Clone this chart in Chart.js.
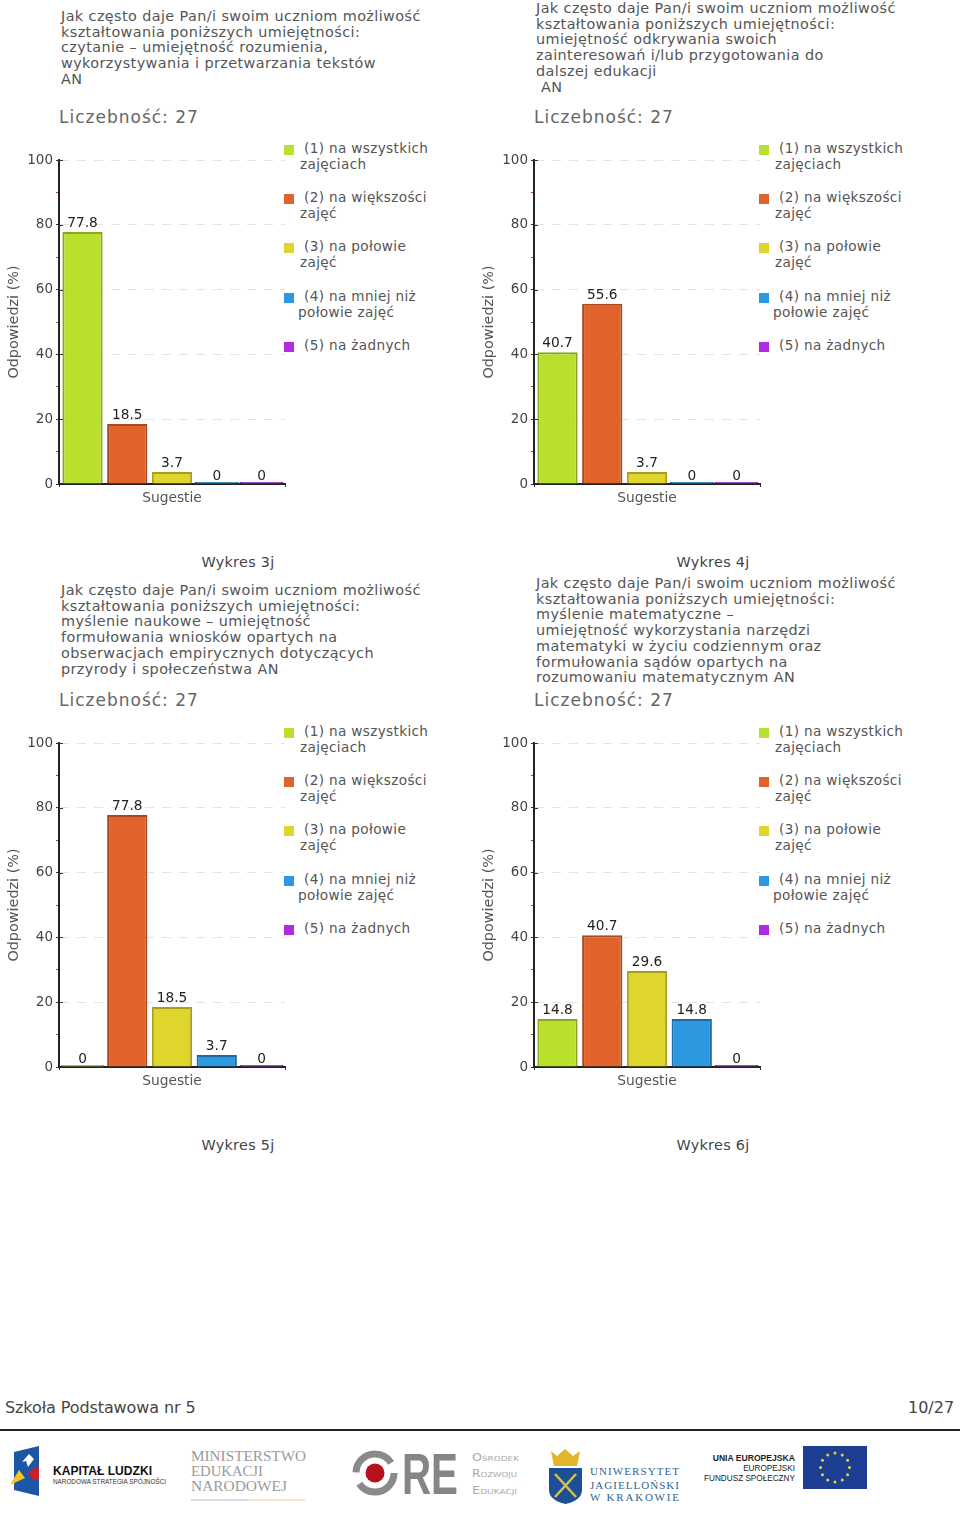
<!DOCTYPE html>
<html>
<head>
<meta charset="utf-8">
<title>Wykresy 3j-6j</title>
<script src="https://cdnjs.cloudflare.com/ajax/libs/Chart.js/4.4.1/chart.umd.min.js"></script>
<style>
html, body { margin: 0; background: #fff; }
#page { position: relative; width: 960px; height: 1518px; overflow: hidden; font-family: "DejaVu Sans", sans-serif; color: #555; }
#page div, #page canvas, #page svg { position: absolute; }
.question { font-size: 14.4px; line-height: 15.7px; letter-spacing: .4px; white-space: pre; color: #555; }
.count { font-size: 17px; letter-spacing: 1px; color: #666; white-space: pre; }
.leg { font-size: 13.6px; line-height: 16px; letter-spacing: .35px; white-space: pre; color: #555; }
.sw { width: 8px; height: 8px; border: 1px solid; }
.cap { font-size: 14.4px; letter-spacing: .3px; color: #444; width: 200px; text-align: center; }
</style>
</head>
<body>
<div id="page"></div>
<script>
// answers, same for every chart
var categories = ['Sugestie'];
var answers = ['(1) na wszystkich\nzajęciach', '(2) na większości\nzajęć', '(3) na połowie\nzajęć', '(4) na mniej niż\npołowie zajęć', '(5) na żadnych'];
var fills = ['#b9e02c', '#e0632c', '#e0d52c', '#2c98e0', '#b02ce0'];
var borders = ['#8ba620', '#a8481f', '#a89e1f', '#1d6aa3', '#7d1fa3'];

var values3j = [77.8, 18.5, 3.7, 0, 0];
var values4j = [40.7, 55.6, 3.7, 0, 0];
var values5j = [0, 77.8, 18.5, 3.7, 0];
var values6j = [14.8, 40.7, 29.6, 14.8, 0];

var question3j = ['Jak często daje Pan/i swoim uczniom możliwość', 'kształtowania poniższych umiejętności:', 'czytanie – umiejętność rozumienia,', 'wykorzystywania i przetwarzania tekstów', 'AN'];
var question4j = ['Jak często daje Pan/i swoim uczniom możliwość', 'kształtowania poniższych umiejętności:', 'umiejętność odkrywania swoich', 'zainteresowań i/lub przygotowania do', 'dalszej edukacji', ' AN'];
var question5j = ['Jak często daje Pan/i swoim uczniom możliwość', 'kształtowania poniższych umiejętności:', 'myślenie naukowe – umiejętność', 'formułowania wniosków opartych na', 'obserwacjach empirycznych dotyczących', 'przyrody i społeczeństwa AN'];
var question6j = ['Jak często daje Pan/i swoim uczniom możliwość', 'kształtowania poniższych umiejętności:', 'myślenie matematyczne –', 'umiejętność wykorzystania narzędzi', 'matematyki w życiu codziennym oraz', 'formułowania sądów opartych na', 'rozumowaniu matematycznym AN'];

var panels = [
  { x: 0, y: 0, qy: 9, cap: 'Wykres 3j', values: values3j, question: question3j },
  { x: 475, y: 0, qy: 1, cap: 'Wykres 4j', values: values4j, question: question4j },
  { x: 0, y: 583, qy: 0, cap: 'Wykres 5j', values: values5j, question: question5j },
  { x: 475, y: 583, qy: -7, cap: 'Wykres 6j', values: values6j, question: question6j }
];

var page = document.getElementById('page');

function addDiv(cls, left, top, text) {
  var d = document.createElement('div');
  d.className = cls;
  d.style.left = left + 'px';
  d.style.top = top + 'px';
  if (text) d.textContent = text;
  page.appendChild(d);
  return d;
}

// value above each bar + the short cross marks on the y axis
var extras = {
  id: 'extras',
  afterDatasetsDraw: function (chart) {
    var ctx = chart.ctx;
    var ys = chart.scales.y;
    ctx.save();
    ctx.strokeStyle = '#333';
    ctx.lineWidth = 1;
    [20, 40, 60, 80, 100].forEach(function (v) {
      var py = Math.round(ys.getPixelForValue(v)) + .5;
      ctx.beginPath();
      ctx.moveTo(ys.right, py);
      ctx.lineTo(ys.right + 4, py);
      ctx.stroke();
    });
    ctx.font = '13.7px "DejaVu Sans"';
    ctx.fillStyle = '#222';
    ctx.textAlign = 'center';
    ctx.textBaseline = 'alphabetic';
    chart.data.datasets.forEach(function (ds, i) {
      var bar = chart.getDatasetMeta(i).data[0];
      ctx.fillText(String(ds.data[0]), bar.x, bar.y - (ds.data[0] === 0 ? 2 : 5));
    });
    ctx.restore();
  }
};

panels.forEach(function (p) {
  addDiv('question', p.x + 61, p.y + p.qy, p.question.join('\n'));
  addDiv('count', p.x + 59, p.y + 107, 'Liczebność: 27');
  addDiv('cap', p.x + 138, p.y + 554, p.cap);

  answers.forEach(function (a, i) {
    var top = p.y + 140.5 + i * 49.4;
    var s = addDiv('sw', p.x + 284, top + 4);
    s.style.background = fills[i];
    s.style.borderColor = fills[i];
    var parts = a.split('\n');
    addDiv('leg', p.x + 304, top - 1, parts[0]);
    if (parts[1]) addDiv('leg', p.x + (i === 3 ? 298 : 300), top + 15, parts[1]);
  });

  var cv = document.createElement('canvas');
  cv.width = 290;
  cv.height = 370;
  cv.style.left = p.x + 'px';
  cv.style.top = (p.y + 140) + 'px';
  page.appendChild(cv);

  new Chart(cv.getContext('2d'), {
    type: 'bar',
    plugins: [extras],
    data: {
      labels: categories,
      datasets: p.values.map(function (v, i) {
        return {
          label: answers[i].replace('\n', ' '),
          data: [v],
          backgroundColor: fills[i],
          borderColor: borders[i],
          borderWidth: 2,
          minBarLength: 2,
          barPercentage: v === 0 ? 0.98 : 0.9,
          categoryPercentage: 0.99
        };
      })
    },
    options: {
      responsive: false,
      animation: false,
      layout: { padding: { top: 20, right: 5, left: 0, bottom: 0 } },
      plugins: { legend: { display: false }, title: { display: false }, tooltip: { enabled: false } },
      scales: {
        x: {
          afterFit: function (s) { s.height = 26; },
          border: { color: '#222', width: 2 },
          grid: { color: 'transparent', tickColor: '#333', tickLength: 3 },
          ticks: { color: '#555', padding: 3, font: { family: '"DejaVu Sans"', size: 13.8 } }
        },
        y: {
          min: 0,
          max: 100,
          afterFit: function (s) { s.width = 59; },
          border: { color: '#222', width: 2, dash: [9, 8] },
          title: { display: true, text: 'Odpowiedzi (%)', color: '#555', padding: { top: 6, bottom: 0 }, font: { family: '"DejaVu Sans"', size: 14.4 } },
          grid: {
            lineWidth: 1,
            tickBorderDash: [],
            tickLength: 3,
            color: function (c) { return c.tick.value % 20 === 0 && c.tick.value > 0 ? '#e4e4e4' : 'transparent'; },
            tickColor: function (c) { return c.tick.value % 20 === 0 ? '#333' : '#b04040'; }
          },
          ticks: {
            stepSize: 10,
            padding: 3,
            color: '#444',
            font: { family: '"DejaVu Sans"', size: 13.5 },
            callback: function (v) { return v % 20 === 0 ? v : ''; }
          }
        }
      }
    }
  });
});

// footer
addDiv('', 5, 1398, 'Szkoła Podstawowa nr 5').style.cssText += 'font-size:16px;color:#444;white-space:pre;letter-spacing:-.1px';
addDiv('', 908, 1398, '10/27').style.cssText += 'font-size:16px;color:#444;white-space:pre';
addDiv('', 0, 1429).style.cssText += 'width:960px;height:2px;background:#222';

// logo strip
var squeeze = 'lengthAdjust="spacingAndGlyphs"';
var logos = '<svg xmlns="http://www.w3.org/2000/svg" width="960" height="90" viewBox="0 1430 960 90" style="left:0;top:1430px">'
  + '<polygon points="14,1452 39,1446 39,1496 14,1490" fill="#1c56a5"/>'
  + '<polygon points="29,1454 34,1459 28,1467 26,1461 22,1462" fill="#fff"/>'
  + '<polygon points="10,1485 19,1470 25,1478" fill="#f2c81e"/>'
  + '<polygon points="28,1472 39,1466 39,1480 33,1480" fill="#c8202c"/>'
  + '<text x="53" y="1475" font-family="Liberation Sans" font-weight="bold" font-size="12.5" fill="#111" textLength="99" ' + squeeze + '>KAPITAŁ LUDZKI</text>'
  + '<text x="53" y="1484" font-family="Liberation Sans" font-size="6.6" fill="#333" textLength="113" ' + squeeze + '>NARODOWA STRATEGIA SPÓJNOŚCI</text>'
  + '<g font-family="Liberation Serif" font-size="15" fill="#9a9a9a">'
  + '<text x="191" y="1461" textLength="115" ' + squeeze + '>MINISTERSTWO</text><text x="191" y="1476" textLength="72" ' + squeeze + '>EDUKACJI</text><text x="191" y="1491" textLength="96" ' + squeeze + '>NARODOWEJ</text></g>'
  + '<line x1="191" x2="248" y1="1500" y2="1500" stroke="#b4c0cc"/><line x1="248" x2="305" y1="1500" y2="1500" stroke="#eccba8"/>'
  + '<circle cx="375" cy="1473" r="19" fill="none" stroke="#8a8a8a" stroke-width="7" stroke-dasharray="48 12"/>'
  + '<circle cx="375" cy="1473" r="9.5" fill="#b5121b"/>'
  + '<text x="402" y="1494" font-family="Liberation Sans" font-weight="bold" font-size="58" fill="#858585" textLength="56" ' + squeeze + '>RE</text>'
  + '<g font-family="DejaVu Sans" font-size="10" fill="#aaa" style="font-variant:small-caps"><text x="472" y="1461" textLength="47" ' + squeeze + '>Ośrodek</text><text x="472" y="1477" textLength="45" ' + squeeze + '>Rozwoju</text><text x="472" y="1494" textLength="45" ' + squeeze + '>Edukacji</text></g>'
  + '<polygon points="551,1451 557,1456 565,1449 573,1456 580,1451 577,1466 554,1466" fill="#e3b52b"/>'
  + '<path d="M549 1468 H582 V1490 Q582 1500 565.5 1504 Q549 1500 549 1490 Z" fill="#1d4f96"/>'
  + '<line x1="555" y1="1474" x2="576" y2="1497" stroke="#d9c04a" stroke-width="2.5"/><line x1="576" y1="1474" x2="555" y2="1497" stroke="#d9c04a" stroke-width="2.5"/>'
  + '<g font-family="Liberation Serif" font-size="11" fill="#2f6390"><text x="590" y="1475" textLength="89">UNIWERSYTET</text><text x="590" y="1489" textLength="89">JAGIELLOŃSKI</text><text x="590" y="1501" textLength="89">W KRAKOWIE</text></g>'
  + '<g font-family="Liberation Sans" text-anchor="end" fill="#222"><text x="795" y="1461" font-size="8.6" font-weight="bold">UNIA EUROPEJSKA</text><text x="795" y="1471" font-size="8.2">EUROPEJSKI</text><text x="795" y="1481" font-size="8.2">FUNDUSZ SPOŁECZNY</text></g>'
  + '<rect x="803" y="1446" width="64" height="43" fill="#1c3f94"/>';
for (var k = 0; k < 12; k++) {
  var a = k * Math.PI / 6;
  logos += '<circle cx="' + (835 + 14.5 * Math.cos(a)) + '" cy="' + (1467.5 + 14.5 * Math.sin(a)) + '" r="1.5" fill="#e6d33c"/>';
}
logos += '</svg>';
page.insertAdjacentHTML('beforeend', logos);
</script>
</body>
</html>
